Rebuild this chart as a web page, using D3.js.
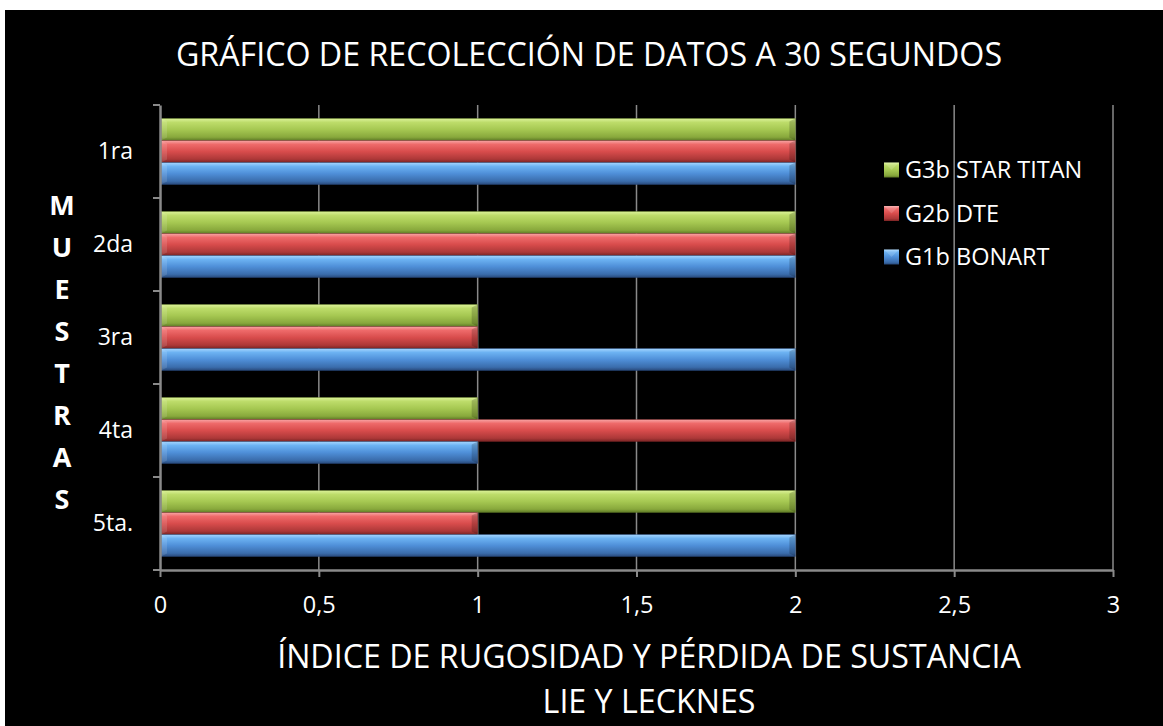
<!DOCTYPE html>
<html>
<head>
<meta charset="utf-8">
<script src="https://cdn.jsdelivr.net/npm/d3@7/dist/d3.min.js"></script>
<style>
  html, body { margin: 0; padding: 0; background: #ffffff; }
  svg { display: block; }
  text { font-family: "Open Sans", "Liberation Sans", sans-serif; fill: #ffffff; }
</style>
</head>
<body>
<svg id="chart" width="1163" height="726"></svg>
<script>
// ---------- DATA ----------
const categories = ["1ra", "2da", "3ra", "4ta", "5ta."];
const seriesNames = ["G3b STAR TITAN", "G2b DTE", "G1b BONART"];
const g3bStarTitan = [2, 2, 1, 1, 2];
const g2bDte       = [2, 2, 1, 2, 1];
const g1bBonart    = [2, 2, 2, 1, 2];
const xTickValues  = [0, 0.5, 1, 1.5, 2, 2.5, 3];
const titleText = "GRÁFICO DE RECOLECCIÓN DE DATOS A 30 SEGUNDOS";
const xTitleLines = ["ÍNDICE DE RUGOSIDAD Y PÉRDIDA DE SUSTANCIA", "LIE Y LECKNES"];
const yTitleLetters = ["M", "U", "E", "S", "T", "R", "A", "S"];

// ---------- SETUP ----------
const svg = d3.select("#chart");
const W = 1163, H = 726;

const seriesValues = [g3bStarTitan, g2bDte, g1bBonart];
const series = seriesNames.map((name, i) => ({ name, values: seriesValues[i], key: i }));

const palettes = [
  ["#dcf29a", "#bddc6a", "#a6c852", "#88a83c", "#5f7a26"],
  ["#f8a6a6", "#ee6a6a", "#d84c4c", "#ac3838", "#7a2424"],
  ["#a6d6ff", "#6cb2f2", "#4f8fd8", "#3a6cab", "#28497a"]
];

const defs = svg.append("defs");
palettes.forEach((p, i) => {
  const g = defs.append("linearGradient").attr("id", "grad" + i)
    .attr("x1", 0).attr("y1", 0).attr("x2", 0).attr("y2", 1);
  [[0, p[0]], [0.18, p[1]], [0.5, p[2]], [0.85, p[3]], [1, p[4]]].forEach(([o, c]) =>
    g.append("stop").attr("offset", o).attr("stop-color", c));
});

// background
svg.append("rect").attr("x", 0).attr("y", 0).attr("width", W).attr("height", H).attr("fill", "#ffffff");
svg.append("rect").attr("x", 5).attr("y", 10).attr("width", W - 5).attr("height", H - 10).attr("fill", "#000000");

// scales
const plot = { left: 160, right: 1113, top: 105, bottom: 570 };
const x = d3.scaleLinear().domain([0, 3]).range([plot.left, plot.right]);
const y = d3.scaleBand().domain(categories).range([plot.top, plot.bottom]).padding(0);
const ySub = d3.scaleBand().domain(d3.range(series.length)).range([0, y.bandwidth()])
  .paddingInner(0).paddingOuter(0.61);

const axisColor = "#8a8a8a";

// gridlines
svg.append("g").selectAll("line").data(xTickValues.filter(d => d > 0)).join("line")
  .attr("x1", d => x(d)).attr("x2", d => x(d))
  .attr("y1", plot.top).attr("y2", plot.bottom)
  .attr("stroke", axisColor).attr("stroke-width", 1.5);

// bars
const barsG = svg.append("g");
series.forEach(s => {
  const grp = barsG.append("g");
  s.values.forEach((v, ci) => {
    const x0 = x(0) + 1, x1 = x(v);
    const y0 = y(categories[ci]) + ySub(s.key);
    const h = ySub.bandwidth();
    const y1 = y0 + h;
    const b = 6;
    grp.append("rect").attr("x", x0).attr("y", y0).attr("width", x1 - x0).attr("height", h)
      .attr("fill", `url(#grad${s.key})`);
    grp.append("polygon")
      .attr("points", [[x0, y0], [x0 + b, y0 + b * 0.5], [x0 + b, y1 - b * 0.5], [x0, y1]].map(p => p.join(",")).join(" "))
      .attr("fill", "#ffffff").attr("opacity", 0.12);
    grp.append("polygon")
      .attr("points", [[x1, y0], [x1 - b, y0 + b * 0.5], [x1 - b, y1 - b * 0.5], [x1, y1]].map(p => p.join(",")).join(" "))
      .attr("fill", "#000000").attr("opacity", 0.18);
    grp.append("rect").attr("x", x0).attr("y", y0).attr("width", x1 - x0).attr("height", h)
      .attr("fill", "none").attr("stroke", palettes[s.key][4]).attr("stroke-width", 0.6).attr("opacity", 0.7);
  });
});

// x axis
const locale = d3.formatLocale({ decimal: ",", thousands: ".", grouping: [3], currency: ["", ""] });
const fmt = d => locale.format("~g")(d);
const xAxis = svg.append("g").attr("transform", `translate(0,${plot.bottom})`)
  .call(d3.axisBottom(x).tickValues(xTickValues).tickFormat(fmt).tickSizeInner(7).tickSizeOuter(0).tickPadding(19));
xAxis.select(".domain").attr("stroke", axisColor).attr("stroke-width", 2.5);
xAxis.selectAll(".tick line").attr("stroke", axisColor).attr("stroke-width", 2);
xAxis.selectAll(".tick text").attr("fill", "#ffffff").style("font-size", "23.5px")
  .style("font-family", '"Open Sans", sans-serif');

// y axis
const yAxis = svg.append("g").attr("transform", `translate(${plot.left},0)`)
  .call(d3.axisLeft(y).tickSize(0).tickPadding(27));
yAxis.select(".domain").attr("stroke", axisColor).attr("stroke-width", 2.5);
yAxis.selectAll(".tick text").attr("fill", "#ffffff").style("font-size", "23px")
  .style("font-family", '"Open Sans", sans-serif');
const boundaries = categories.map(c => y(c)).concat([y(categories[categories.length - 1]) + y.bandwidth()]);
yAxis.append("g").selectAll("line").data(boundaries).join("line")
  .attr("x1", -7).attr("x2", 0).attr("y1", d => d).attr("y2", d => d)
  .attr("stroke", axisColor).attr("stroke-width", 2);

// title
svg.append("text").attr("x", 589).attr("y", 66).attr("text-anchor", "middle")
  .style("font-size", "32.2px").text(titleText);

// x title
svg.append("g").selectAll("text").data(xTitleLines).join("text")
  .attr("x", 649).attr("y", (d, i) => 668 + i * 45).attr("text-anchor", "middle")
  .style("font-size", "32.2px").text(d => d);

// y title (stacked letters)
svg.append("g").selectAll("text").data(yTitleLetters).join("text")
  .attr("x", 62).attr("y", (d, i) => 205 + i * 42).attr("dy", "0.36em").attr("text-anchor", "middle")
  .style("font-size", "27px").style("font-weight", "bold").text(d => d);

// legend
const legend = svg.append("g").attr("transform", "translate(884,170)");
const li = legend.selectAll("g").data(series).join("g")
  .attr("transform", (d, i) => `translate(0,${i * 43.5})`);
li.append("rect").attr("x", 0).attr("y", -7.5).attr("width", 15).attr("height", 15)
  .attr("fill", d => `url(#grad${d.key})`);
li.append("polygon").attr("points", "0,-7.5 15,-7.5 7.5,0").attr("fill", "#ffffff").attr("opacity", 0.15);
li.append("text").attr("x", 21).attr("dy", "0.36em").style("font-size", "23.5px").text(d => d.name);
</script>
</body>
</html>
